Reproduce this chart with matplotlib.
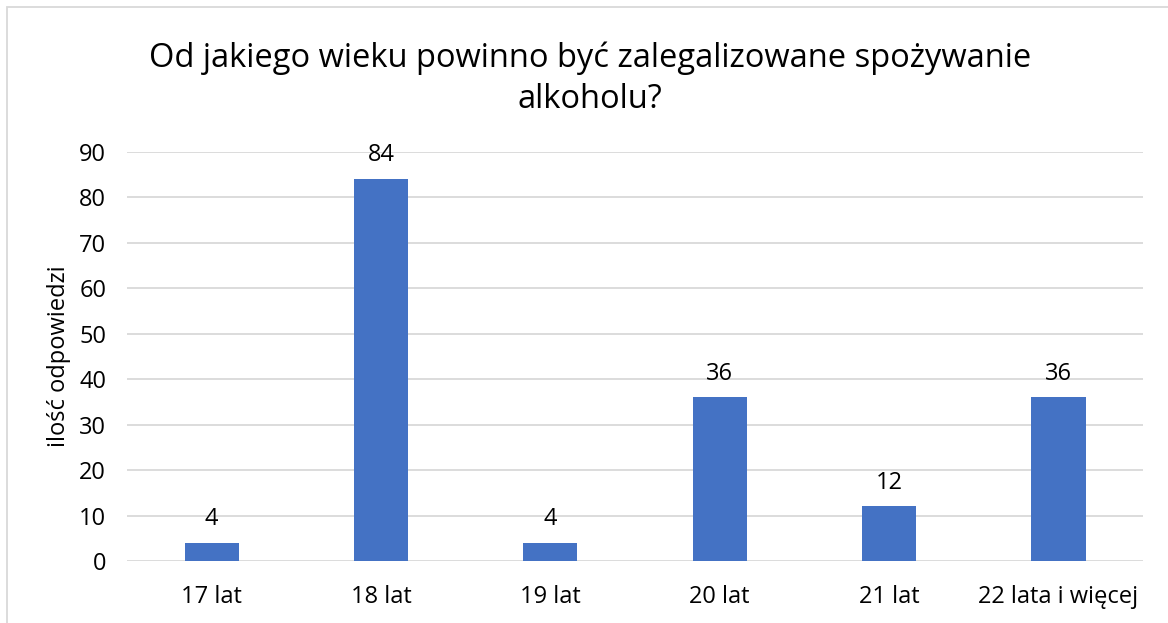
import matplotlib.pyplot as plt
from matplotlib.patches import Rectangle

plt.rcParams['font.family'] = ['Open Sans', 'DejaVu Sans']

categories = ["17 lat", "18 lat", "19 lat", "20 lat", "21 lat", "22 lata i więcej"]
values = [4, 84, 4, 36, 12, 36]

fig = plt.figure(figsize=(11.68, 6.23), dpi=100)
ax = fig.add_axes([0.1087, 0.0995, 0.870, 0.6565])

x = range(len(categories))
bars = ax.bar(x, values, width=0.32, color="#4472C4", zorder=3)

for xi, v in zip(x, values):
    ax.text(xi, v + 2.6, str(v), ha="center", va="bottom", fontsize=17, color="#000000")

ax.set_xlim(-0.5, len(categories) - 0.5)
ax.set_ylim(0, 90)
ax.set_yticks(range(0, 91, 10))
ax.set_xticks(list(x))
ax.set_xticklabels(categories, fontsize=17)
ax.tick_params(axis="y", labelsize=17, length=0, pad=15)
ax.tick_params(axis="x", length=0, pad=17)
ax.grid(axis="y", color="#D9D9D9", linewidth=1.3, zorder=0)
for s in ax.spines.values():
    s.set_visible(False)

ax.set_ylabel("ilość odpowiedzi", fontsize=17, labelpad=6)

fig.text(0.505, 0.874, "Od jakiego wieku powinno być zalegalizowane spożywanie\nalkoholu?",
         ha="center", va="center", fontsize=23.5, linespacing=1.33)

# chart border (cut off on the right and bottom)
fig.patches.append(Rectangle((7 / 1168, -0.1), 1.2, 1 - 7 / 623 + 0.1, transform=fig.transFigure,
                             fill=False, edgecolor="#D9D9D9", linewidth=1.3))

fig.savefig("out.png", dpi=100)
